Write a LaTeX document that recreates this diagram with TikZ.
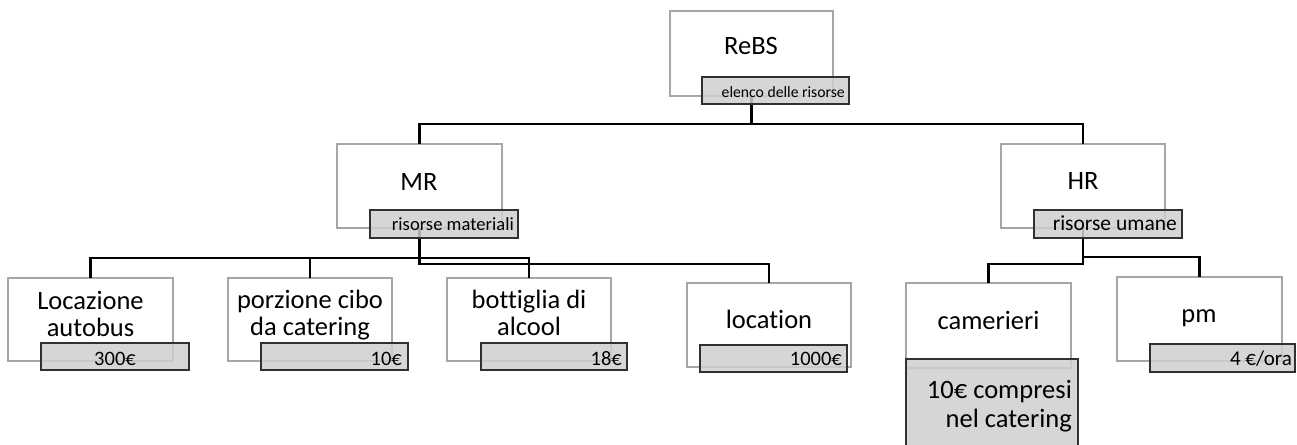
\documentclass[tikz,border=0pt]{standalone}
\usepackage{fontspec}
\setmainfont{Carlito}[Ligatures=NoCommon]
\definecolor{boxline}{HTML}{A6A6A6}
\definecolor{tagfill}{HTML}{CFCFCF}
\definecolor{tagline}{HTML}{303030}
\begin{document}
\begin{tikzpicture}[x=1pt,y=-1pt,
  unit/.style={draw=boxline,line width=1.2pt,fill=white,rectangle,anchor=north west,
    inner sep=0pt,outer sep=0pt},
  tag/.style={draw=tagline,line width=1.2pt,fill=tagfill,fill opacity=0.85,rectangle,
    anchor=north west,inner sep=0pt,outer sep=0pt},
  link/.style={line width=2.5pt,black},
  title/.style={font=\fontsize{26.5}{27}\selectfont,align=center,anchor=base,inner sep=0pt},
  note/.style={inner sep=0pt,anchor=base east},
  price/.style={note,font=\fontsize{20.5}{22}\selectfont}
]
\useasboundingbox (0,0) rectangle (1297,444);

% boxes
\node[unit,minimum width=163pt,minimum height=85pt] (rebs) at (670,11) {};
\node[unit,minimum width=165pt,minimum height=84pt] (mr) at (337,144) {};
\node[unit,minimum width=164pt,minimum height=84pt] (hr) at (1001,144) {};
\node[unit,minimum width=165pt,minimum height=83pt] (bus) at (8,278) {};
\node[unit,minimum width=164pt,minimum height=83pt] (food) at (228,278) {};
\node[unit,minimum width=164pt,minimum height=83pt] (drink) at (447,278) {};
\node[unit,minimum width=164pt,minimum height=84pt] (venue) at (687,283) {};
\node[unit,minimum width=165pt,minimum height=85pt] (staff) at (906,283) {};
\node[unit,minimum width=165pt,minimum height=84pt] (pm) at (1117,277) {};

% elbow connectors
\draw[link] (rebs.south) -- ++(0,28) -| (mr.north);
\draw[link] (rebs.south) -- ++(0,28) -| (hr.north);
\draw[link] (mr.south) -- ++(0,30) -| (bus.north);
\draw[link] (mr.south) -- ++(0,30) -| (food.north);
\draw[link] (mr.south) -- ++(0,30) -| (drink.north);
\draw[link] (mr.south) -- ++(0,36) -| (venue.north);
\draw[link] (hr.south) -- ++(0,36) -| (staff.north);
\draw[link] (hr.south) -- ++(0,29) -| (pm.north);

% grey tags
\node[tag,minimum width=147pt,minimum height=27pt] (t0) at (702,77) {};
\node[tag,minimum width=148pt,minimum height=28pt] (tmr) at (370,210) {};
\node[tag,minimum width=148pt,minimum height=28pt] (thr) at (1034,210) {};
\node[tag,minimum width=148pt,minimum height=27pt] (t1) at (41,343) {};
\node[tag,minimum width=147pt,minimum height=27pt] (t2) at (261,343) {};
\node[tag,minimum width=146pt,minimum height=27pt] (t3) at (481,343) {};
\node[tag,minimum width=147pt,minimum height=27pt] (t4) at (700,345) {};
\node[tag,minimum width=172pt,minimum height=90pt] (t5) at (906,359) {};
\node[tag,minimum width=145pt,minimum height=28pt] (t6) at (1150,344) {};

% titles (anchor = baseline of the last line)
\node[title] (x0) at (751,55) {ReBS};
\node[title] (xmr) at (419,190) {MR};
\node[title] (xhr) at (1083,189) {HR};
\node[title] (x1) at (90.5,336) {Locazione\\autobus};
\node[title] (x2) at (310,335) {porzione cibo\\da catering};
\node[title] (x3) at (529,335) {bottiglia di\\alcool};
\node[title] (x4) at (769,328) {location};
\node[title] (x5) at (988.5,329) {camerieri};
\node[title] (x6) at (1199,322) {pm};

% tag texts
\node[note,font=\fontsize{15.7}{18}\selectfont] (n0) at (845,97) {elenco delle risorse};
\node[note,font=\fontsize{18.6}{20}\selectfont] (nmr) at (514,230) {risorse materiali};
\node[note,font=\fontsize{21.5}{22}\selectfont] (nhr) at (1177,230) {risorse umane};
\node[price,anchor=base] (n1) at (115,365) {300€};
\node[price] (n2) at (402,365) {10€};
\node[price] (n3) at (622,365) {18€};
\node[price] (n4) at (842,365) {1000€};
\node[price,font=\fontsize{21}{22}\selectfont] (n6) at (1292,365) {4 €/ora};
\node[inner sep=0pt,anchor=base east,align=right,font=\fontsize{26.5}{29}\selectfont]
  (n5) at (1072,427) {10€ compresi\\nel catering};
\end{tikzpicture}
\end{document}
